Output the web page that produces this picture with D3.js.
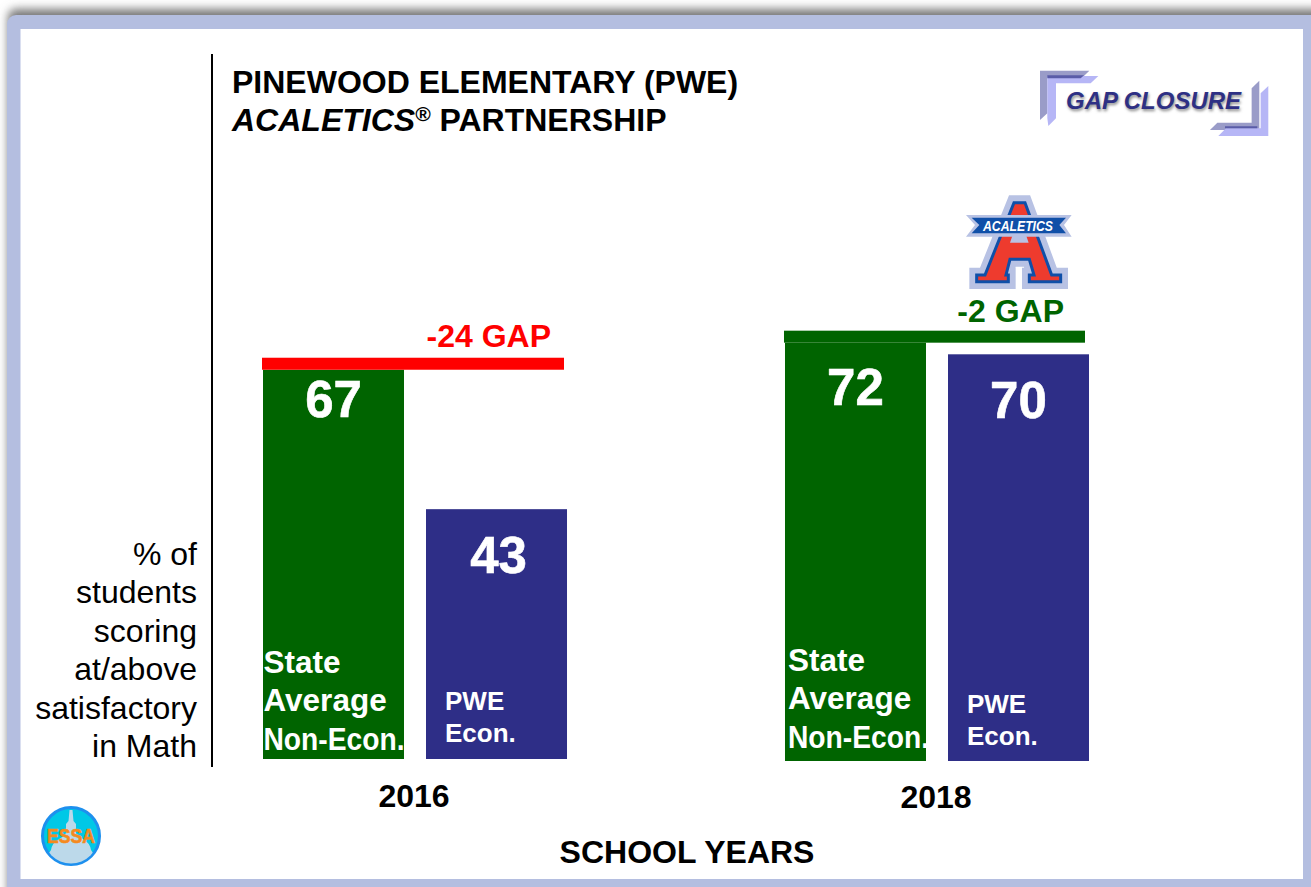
<!DOCTYPE html>
<html><head><meta charset="utf-8">
<script src="https://cdnjs.cloudflare.com/ajax/libs/d3/7.8.5/d3.min.js"></script>
<style>html,body{margin:0;padding:0;background:#fff;overflow:hidden}svg{display:block}text{font-family:"Liberation Sans",Arial,sans-serif}</style>
</head><body><svg id="c" width="1311" height="887"></svg>
<script>
const years = ["2016", "2018"];
const seriesKeys = ["State", "PWE"];
const stateValues = [67, 72];
const pweValues = [43, 70];
const gapLabels = ["-24 GAP", "-2 GAP"];
const gapColors = ["#ff0000", "#006400"];
const baselines = [759, 761];
const seriesColors = ["#006400", "#2e2e87"];
const yLabelLines = ["% of", "students", "scoring", "at/above", "satisfactory", "in Math"];
const titleLine1 = "PINEWOOD ELEMENTARY (PWE)";
const xTitle = "SCHOOL YEARS";

const svg = d3.select("#c");
const defs = svg.append("defs");
defs.append("filter").attr("id","sh").attr("x","-5%").attr("y","-5%").attr("width","110%").attr("height","110%")
  .append("feGaussianBlur").attr("stdDeviation",5);
defs.append("filter").attr("id","ts").attr("x","-10%").attr("y","-30%").attr("width","120%").attr("height","170%")
  .append("feGaussianBlur").attr("stdDeviation",1.5);
defs.append("clipPath").attr("id","ec").append("circle").attr("r",27.5);

// frame
svg.append("rect").attr("x",8).attr("y",9).attr("width",1340).attr("height",920).attr("rx",8).attr("fill","#777").attr("filter","url(#sh)");
svg.append("rect").attr("x",7).attr("y",15).attr("width",1340).attr("height",920).attr("rx",9).attr("fill","#b4bee0");
svg.append("rect").attr("x",20.5).attr("y",29).attr("width",1282.5).attr("height",850).attr("fill","#fff");

// scales
const x0 = d3.scaleBand().domain(years).range([263,1089]).paddingInner(0.4176);
const x1 = d3.scaleBand().domain(seriesKeys).range([0,x0.bandwidth()]).paddingInner(0.135);
const yScale = i => d3.scaleLinear().domain([0,100]).range([baselines[i], baselines[i]-581]);

years.forEach((yr,i)=>{
  const y = yScale(i), g = svg.append("g").attr("transform",`translate(${x0(yr)},0)`);
  const vals = [stateValues[i], pweValues[i]];
  g.selectAll("rect.bar").data(seriesKeys).join("rect").attr("class","bar")
    .attr("x",d=>x1(d)).attr("width",x1.bandwidth())
    .attr("y",(d,j)=>y(vals[j])).attr("height",(d,j)=>y(0)-y(vals[j]))
    .attr("fill",(d,j)=>seriesColors[j]);
  g.selectAll("text.val").data(seriesKeys).join("text").attr("class","val")
    .attr("x",(d,j)=>x1(d)+x1.bandwidth()/2+(i===0&&j===1?2:0))
    .attr("y",(d,j)=>y(vals[j])+(j===0?(i===0?47:62):64))
    .attr("text-anchor","middle").attr("font-size",51).attr("font-weight","bold").attr("fill","#fff")
    .attr("stroke","#fff").attr("stroke-width",0.6)
    .text((d,j)=>vals[j]);
  // gap line
  g.append("rect").attr("x",-1).attr("width",[302,301][i]).attr("y",y(vals[0])-12).attr("height",12).attr("fill",gapColors[i]);
  g.append("text").attr("x",i===0?288:279).attr("y",y(vals[0])-(i===0?23:21)).attr("text-anchor","end")
    .attr("font-size",32).attr("font-weight","bold").attr("fill",gapColors[i]).text(gapLabels[i]);
  // inside labels
  const sx = i===0?0.5:3, sy=[673,671][i];
  ["State","Average","Non-Econ."].forEach((t,k)=>{
    const el = g.append("text").attr("x",sx).attr("y",sy+k*38.4).attr("font-size",31.5).attr("font-weight","bold").attr("fill","#fff").text(t);
    if(k===2) el.attr("textLength",141).attr("lengthAdjust","spacingAndGlyphs");
  });
  const px = x1("PWE")+19, py=[710,713][i];
  ["PWE","Econ."].forEach((t,k)=>{
    g.append("text").attr("x",px).attr("y",py+k*32).attr("font-size",26).attr("font-weight","bold").attr("fill","#fff").text(t);
  });
  // year label
  svg.append("text").attr("x",x0(yr)+x0.bandwidth()/2-1).attr("y",[807,808][i]).attr("text-anchor","middle")
    .attr("font-size",32).attr("font-weight","bold").attr("fill","#000").text(yr);
});

// axis line
svg.append("line").attr("x1",212).attr("x2",212).attr("y1",54).attr("y2",767).attr("stroke","#000").attr("stroke-width",2);
// y label
yLabelLines.forEach((t,k)=>svg.append("text").attr("x",197).attr("y",565+k*38.4).attr("text-anchor","end").attr("font-size",32).attr("fill","#000").text(t));
// titles
svg.append("text").attr("x",232).attr("y",93).attr("font-size",32).attr("font-weight","bold").text(titleLine1);
const t2 = svg.append("text").attr("x",232).attr("y",131).attr("font-size",32).attr("font-weight","bold");
t2.append("tspan").attr("font-style","italic").text("ACALETICS");
t2.append("tspan").attr("font-style","italic").attr("font-size",21).attr("dy",-10).text("®");
t2.append("tspan").attr("dy",10).text(" PARTNERSHIP");
svg.append("text").attr("x",687).attr("y",863).attr("text-anchor","middle").attr("font-size",32).attr("font-weight","bold").text(xTitle);

// GAP CLOSURE badge
const gc = svg.append("g").attr("transform","translate(1020,50) scale(0.3333)");
const poly=(p,f)=>gc.append("polygon").attr("points",p).attr("fill",f);
poly("60,62 208,62 188,82 82,82 82,190 60,210","#9a9cc8");
poly("82,78 235,78 212,100 108,100 108,205 85,228 82,205","#b6b6f6");
poly("82,76 192,76 182,85 82,85","#5a5ca8");
poly("718,92 718,240 570,240 592,218 695,218 695,115","#9a9cc8");
poly("745,108 745,258 595,258 618,235 722,235 722,130","#b6b6f6");
poly("615,229 712,229 712,235 615,235","#5a5ca8");
const gcs={x:1066,y:109,fs:24};
svg.append("text").attr("x",gcs.x+1).attr("y",gcs.y+2).attr("font-size",gcs.fs).attr("font-weight","bold").attr("font-style","italic").attr("fill","#888").attr("filter","url(#ts)").text("GAP CLOSURE");
svg.append("text").attr("x",gcs.x).attr("y",gcs.y).attr("font-size",gcs.fs).attr("font-weight","bold").attr("font-style","italic").attr("fill","#2e3084").text("GAP CLOSURE");

// ACALETICS logo
const al = svg.append("g").attr("transform","translate(940,180) scale(0.3333)");
const aPath="M222,68 L255,68 L335,285 L362,285 L362,305 L268,305 L268,285 L282,285 L268,238 L210,238 L198,285 L205,285 L205,305 L110,305 L110,285 L135,285 Z";
al.append("path").attr("d",aPath).attr("fill","#b8c2e4").attr("stroke","#b8c2e4").attr("stroke-width",44).attr("stroke-linejoin","miter");
al.append("path").attr("d",aPath).attr("fill","#ee3b2e").attr("stroke","#0f4fa8").attr("stroke-width",9).attr("stroke-linejoin","miter");
al.append("polygon").attr("points","218,165 258,165 266,188 210,188").attr("fill","#b8c2e4");
al.append("polygon").attr("points","78,105 395,105 372,135 395,170 78,170 105,135").attr("fill","#b8c2e4");
al.append("polygon").attr("points","95,113 378,113 358,135 378,160 95,160 118,135").attr("fill","#0f4fa8");
svg.append("text").attr("x",983).attr("y",231).attr("font-size",14).attr("font-weight","bold").attr("font-style","italic").attr("fill","#fff").attr("textLength",70).attr("lengthAdjust","spacingAndGlyphs").text("ACALETICS");

// ESSA badge
const es = svg.append("g").attr("transform","translate(71,836)");
es.append("circle").attr("r",28.5).attr("fill","#00c8e6").attr("stroke","#1e90ee").attr("stroke-width",3);
const dome = es.append("g").attr("clip-path","url(#ec)");
dome.append("path").attr("d","M-1.5,-26 L1.5,-26 L2.5,-15 L5,-12 L5,-3 L7,0 L12,3 Q19,7 20,14 L24,20 L24,30 L-24,30 L-24,20 L-20,14 Q-19,7 -12,3 L-7,0 L-5,-3 L-5,-12 L-2.5,-15 Z").attr("fill","#bcd9ea");
es.append("text").attr("x",-24).attr("y",7).attr("font-size",20).attr("font-weight","bold").attr("fill","#f58a1f").attr("stroke","#f58a1f").attr("stroke-width",0.6).attr("textLength",48).attr("lengthAdjust","spacingAndGlyphs").text("ESSA");
</script></body></html>
